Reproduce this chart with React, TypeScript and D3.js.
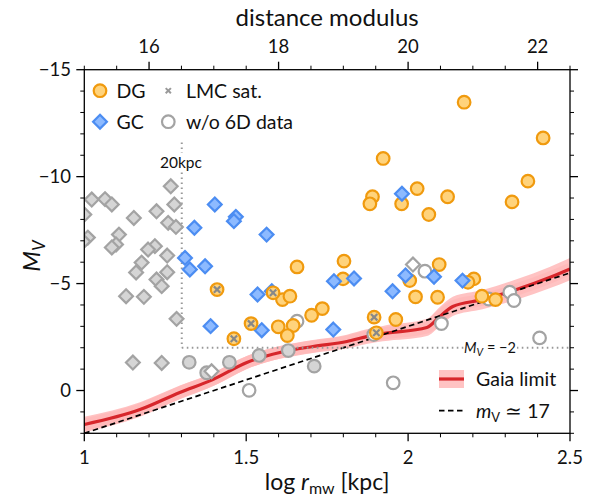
import React from 'react';
import * as d3 from 'd3';

// ---------- data (log r_mw [kpc], M_V) ----------
const dgPoints: [number, number][] = [
  [2.173, -13.48], [2.417, -11.81], [1.923, -10.85], [2.370, -9.79], [2.028, -9.44],
  [1.890, -9.06], [1.882, -8.73], [1.980, -8.73], [2.122, -9.06], [2.064, -8.23],
  [2.321, -8.82], [1.657, -5.78], [1.802, -6.05], [1.799, -5.22], [1.612, -4.25],
  [1.635, -4.41], [1.735, -3.83], [1.702, -3.52], [1.599, -2.98], [1.645, -3.04],
  [1.627, -2.57], [2.096, -5.89], [2.005, -5.14], [2.203, -5.22], [2.185, -5.06],
  [2.023, -4.38], [2.091, -4.36], [2.228, -4.41], [2.270, -4.25], [1.962, -3.32],
];
const lmcPoints: [number, number][] = [
  [1.410, -4.72], [1.583, -4.57], [1.515, -3.13], [1.462, -2.42], [1.895, -3.43], [1.902, -2.70],
];
const gcPoints: [number, number][] = [
  [1.403, -8.70], [1.468, -8.12], [1.462, -7.92], [1.340, -7.61], [1.563, -7.29],
  [1.311, -6.20], [1.326, -5.66], [1.373, -5.81], [1.535, -4.49], [1.579, -4.64],
  [1.390, -3.01], [1.548, -2.82], [1.771, -5.11], [1.833, -5.24], [1.769, -2.85],
  [1.952, -4.64], [1.992, -5.38], [2.080, -5.32], [2.168, -5.14], [1.981, -9.20],
];
const gcNo6D: [number, number][] = [
  [1.267, -9.55], [1.023, -8.93], [1.064, -8.95], [1.085, -8.70], [1.153, -8.07],
  [1.223, -8.38], [1.278, -8.70], [1.259, -7.84], [1.283, -7.65], [1.000, -8.23],
  [1.011, -7.15], [0.997, -6.97], [1.107, -7.29], [1.098, -6.83], [1.085, -6.69],
  [1.218, -6.75], [1.197, -6.59], [1.256, -6.31], [1.177, -5.98], [1.160, -5.52],
  [1.256, -5.53], [1.223, -5.19], [1.239, -4.88], [1.129, -4.41], [1.184, -4.38],
  [1.285, -3.35], [1.239, -1.29], [1.150, -1.31],
];
const grayFilledCircles: [number, number][] = [
  [1.324, -1.32], [1.378, -0.83], [1.448, -1.32], [1.540, -1.64], [1.630, -1.87], [1.710, -1.14],
];
const hollowCircles: [number, number][] = [
  [1.509, -0.01], [1.657, -3.24], [2.052, -5.58], [2.103, -3.13], [2.406, -2.46],
  [1.954, -0.36], [2.314, -4.60], [2.327, -4.21], [1.894, -2.62], [2.249, -4.28],
];
const hollowDiamonds: [number, number][] = [
  [2.015, -5.89], [1.393, -0.90],
];
const gaiaLimit: [number, number][] = [
  [1.0, 1.59], [1.172, 0.89], [1.295, 0.09], [1.397, -0.51], [1.502, -1.31],
  [1.604, -1.78], [1.706, -2.06], [1.811, -2.29], [1.872, -2.52], [1.922, -2.66],
  [2.058, -2.95], [2.098, -3.46], [2.138, -3.93], [2.230, -4.25], [2.335, -4.72],
  [2.437, -5.28], [2.5, -5.68],
];
const gaiaHalfWidth = [0.36, 0.34, 0.32, 0.31, 0.3, 0.3, 0.3, 0.32, 0.34, 0.36, 0.4, 0.45, 0.45, 0.45, 0.48, 0.5, 0.52];
const mV17: [number, number][] = [[1.0, 2.0], [2.5, -5.5]];

const xMajor = [1, 1.5, 2, 2.5];
const xMajorLabels = ['1', '1.5', '2', '2.5'];
const yMajor = [-15, -10, -5, 0];
const yMajorLabels = ['\u221215', '\u221210', '\u22125', '0'];
const muMajor = [16, 18, 20, 22];

// ---------- layout ----------
const W = 593, H = 500;
const L = 84.3, R = 570, T = 69.7, B = 433.3;
const x = d3.scaleLinear().domain([1, 2.5]).range([L, R]);
const y = d3.scaleLinear().domain([2, -15]).range([B, T]);
const xMu = (mu: number) => x((mu - 10) / 5);

const ORANGE_S = '#f09a0e', ORANGE_F = '#ffd37c';
const BLUE_S = '#4c8df2', BLUE_F = '#8dbaff';
const GRAY_S = '#a3a3a3', GRAY_F = '#d5d5d5';
const FONT = 'Lato, "Noto Sans", sans-serif';

const diamond = (h: number) => `M0,${-h}L${h},0L0,${h}L${-h},0Z`;

const Cross = ({ cx, cy, s, color = '#888', w = 2.2 }: any) => (
  <g transform={`translate(${cx},${cy})`} stroke={color} strokeWidth={w}>
    <line x1={-s} y1={-s} x2={s} y2={s} />
    <line x1={-s} y1={s} x2={s} y2={-s} />
  </g>
);

export default function App() {
  const xMinor = d3.range(1, 2.5001, 0.1).filter(v => !xMajor.some(m => Math.abs(m - v) < 1e-6));
  const yMinor = d3.range(-15, 2.001, 1).filter(v => !yMajor.includes(Math.round(v)));
  const muMinor = d3.range(15, 22.5001, 0.5).filter(v => !muMajor.includes(v));

  const line = d3.line<[number, number]>().x(d => x(d[0])).y(d => y(d[1])).curve(d3.curveMonotoneX);
  const band = d3.area<[number, number]>()
    .x(d => x(d[0]))
    .y0((d, i) => y(d[1] + gaiaHalfWidth[i]))
    .y1((d, i) => y(d[1] - gaiaHalfWidth[i]))
    .curve(d3.curveMonotoneX);
  const straight = d3.line<[number, number]>().x(d => x(d[0])).y(d => y(d[1]));

  const R_C = 6.3, R_D = 6.9;

  return (
    <svg width={W} height={H} style={{ position: 'absolute', left: 0, top: 0, background: '#fff' }}
      fontFamily={FONT}>
      <defs>
        <clipPath id="plotclip"><rect x={L} y={T} width={R - L} height={B - T} /></clipPath>
      </defs>
      <rect x={0} y={0} width={W} height={H} fill="#fff" />

      <g clipPath="url(#plotclip)">
        {/* Gaia band + line */}
        <path d={band(gaiaLimit) || ''} fill="#ffb8b8" opacity={0.85} />
        <path d={line(gaiaLimit) || ''} fill="none" stroke="#ffb8b8" strokeWidth={12} opacity={0.85} strokeLinejoin="round" />
        <path d={line(gaiaLimit) || ''} fill="none" stroke="#d7262b" strokeWidth={3.2} />
        <path d={straight(mV17) || ''} fill="none" stroke="#000" strokeWidth={1.7} strokeDasharray="5.5,3.5" />

        {/* dotted reference lines */}
        <line x1={x(1.301)} x2={x(1.301)} y1={y(-11.6)} y2={y(-2)} stroke="#999" strokeWidth={2} strokeDasharray="1.6,3.4" />
        <line x1={x(1.301)} x2={R} y1={y(-2)} y2={y(-2)} stroke="#999" strokeWidth={2} strokeDasharray="1.6,3.4" />
        <rect x={160} y={153} width={42} height={18} fill="#fff" />
        <text x={181} y={167.5} fontSize={15.5} textAnchor="middle" fill="#111">20kpc</text>
        <rect x={464} y={339} width={53} height={17} fill="#fff" />
        <text x={490} y={353} fontSize={14.5} textAnchor="middle" fill="#111">
          <tspan fontStyle="italic">M</tspan>
          <tspan fontStyle="italic" fontSize={10.5} dy={3}>V</tspan>
          <tspan dy={-3}>{' = \u22122'}</tspan>
        </text>

        {/* w/o 6D data */}
        {gcNo6D.map((d, i) => (
          <path key={'gd' + i} d={diamond(R_D)} transform={`translate(${x(d[0])},${y(d[1])})`}
            fill={GRAY_F} stroke={GRAY_S} strokeWidth={2.2} />
        ))}
        {grayFilledCircles.map((d, i) => (
          <circle key={'gc' + i} cx={x(d[0])} cy={y(d[1])} r={R_C} fill={GRAY_F} stroke={GRAY_S} strokeWidth={2.2} />
        ))}
        {hollowDiamonds.map((d, i) => (
          <path key={'hd' + i} d={diamond(R_D)} transform={`translate(${x(d[0])},${y(d[1])})`}
            fill="#fff" stroke={GRAY_S} strokeWidth={2.2} />
        ))}
        {hollowCircles.map((d, i) => (
          <circle key={'hc' + i} cx={x(d[0])} cy={y(d[1])} r={R_C} fill="#fff" stroke={GRAY_S} strokeWidth={2.2} />
        ))}

        {/* DG */}
        {dgPoints.map((d, i) => (
          <circle key={'dg' + i} cx={x(d[0])} cy={y(d[1])} r={R_C} fill={ORANGE_F} stroke={ORANGE_S} strokeWidth={2.2} />
        ))}
        {/* GC */}
        {gcPoints.map((d, i) => (
          <path key={'bc' + i} d={diamond(R_D)} transform={`translate(${x(d[0])},${y(d[1])})`}
            fill={BLUE_F} stroke={BLUE_S} strokeWidth={2.2} />
        ))}
        {/* LMC satellites */}
        {lmcPoints.map((d, i) => (
          <g key={'lmc' + i}>
            <circle cx={x(d[0])} cy={y(d[1])} r={R_C} fill={ORANGE_F} stroke={ORANGE_S} strokeWidth={2.2} />
            <Cross cx={x(d[0])} cy={y(d[1])} s={3.2} />
          </g>
        ))}
      </g>

      {/* frame */}
      <rect x={L} y={T} width={R - L} height={B - T} fill="none" stroke="#000" strokeWidth={1.3} />

      {/* bottom axis */}
      {xMajor.map((v, i) => (
        <g key={'xb' + i}>
          <line x1={x(v)} x2={x(v)} y1={B} y2={B + 8} stroke="#000" strokeWidth={1.3} />
          <text x={x(v)} y={463.5} fontSize={18.5} textAnchor="middle" fill="#111">{xMajorLabels[i]}</text>
        </g>
      ))}
      {xMinor.map((v, i) => (
        <line key={'xm' + i} x1={x(v)} x2={x(v)} y1={B} y2={B + 4} stroke="#000" strokeWidth={1} />
      ))}
      {/* top axis */}
      {muMajor.map((v, i) => (
        <g key={'tm' + i}>
          <line x1={xMu(v)} x2={xMu(v)} y1={T} y2={T - 8} stroke="#000" strokeWidth={1.3} />
          <text x={xMu(v)} y={53} fontSize={18.5} textAnchor="middle" fill="#111">{String(v)}</text>
        </g>
      ))}
      {muMinor.map((v, i) => (
        <line key={'tn' + i} x1={xMu(v)} x2={xMu(v)} y1={T} y2={T - 4} stroke="#000" strokeWidth={1} />
      ))}
      {/* left and right axes */}
      {yMajor.map((v, i) => (
        <g key={'ym' + i}>
          <line x1={L} x2={L - 8} y1={y(v)} y2={y(v)} stroke="#000" strokeWidth={1.3} />
          <line x1={R} x2={R + 8} y1={y(v)} y2={y(v)} stroke="#000" strokeWidth={1.3} />
          <text x={71} y={y(v) + 6.5} fontSize={18.5} textAnchor="end" fill="#111">{yMajorLabels[i]}</text>
        </g>
      ))}
      {yMinor.map((v, i) => (
        <g key={'yn' + i}>
          <line x1={L} x2={L - 4} y1={y(v)} y2={y(v)} stroke="#000" strokeWidth={1} />
          <line x1={R} x2={R + 4} y1={y(v)} y2={y(v)} stroke="#000" strokeWidth={1} />
        </g>
      ))}

      {/* axis titles */}
      <text x={(L + R) / 2} y={26} fontSize={24} textAnchor="middle" fill="#111">distance modulus</text>
      <text x={(L + R) / 2} y={490} fontSize={23} textAnchor="middle" fill="#111">
        <tspan>log </tspan>
        <tspan fontStyle="italic">r</tspan>
        <tspan fontSize={16} dy={3.5}>mw</tspan>
        <tspan dy={-3.5}> [kpc]</tspan>
      </text>
      <text transform={`translate(40,256) rotate(-90)`} fontSize={24} textAnchor="middle" fill="#111">
        <tspan fontStyle="italic">M</tspan>
        <tspan fontStyle="italic" fontSize={17} dy={4.5}>V</tspan>
      </text>

      {/* top-left legend */}
      <circle cx={100} cy={90.7} r={R_C} fill={ORANGE_F} stroke={ORANGE_S} strokeWidth={2.2} />
      <text x={116.5} y={97.5} fontSize={19.5} fill="#111">DG</text>
      <Cross cx={168.3} cy={90.7} s={2.6} color="#999" w={2} />
      <text x={186} y={97.5} fontSize={19.5} fill="#111">LMC sat.</text>
      <path d={diamond(R_D)} transform="translate(100,121.7)" fill={BLUE_F} stroke={BLUE_S} strokeWidth={2.2} />
      <text x={116.5} y={128.5} fontSize={19.5} fill="#111">GC</text>
      <circle cx={168.3} cy={121.7} r={R_C} fill="#fff" stroke={GRAY_S} strokeWidth={2.2} />
      <text x={186} y={128.5} fontSize={19.5} fill="#111">w/o 6D data</text>

      {/* bottom-right legend */}
      <rect x={439} y={370} width={25} height={18} fill="#ffb8b8" opacity={0.85} />
      <line x1={439} x2={464} y1={379} y2={379} stroke="#d7262b" strokeWidth={3.2} />
      <text x={476} y={386} fontSize={19.5} fill="#111">Gaia limit</text>
      <line x1={439} x2={464} y1={410.7} y2={410.7} stroke="#000" strokeWidth={1.7} strokeDasharray="5.5,3.5" />
      <text x={476} y={417.5} fontSize={19.5} fill="#111">
        <tspan fontStyle="italic">m</tspan>
        <tspan fontSize={13} dy={4}>V</tspan>
        <tspan dy={-4}>{' \u2243 17'}</tspan>
      </text>
    </svg>
  );
}
